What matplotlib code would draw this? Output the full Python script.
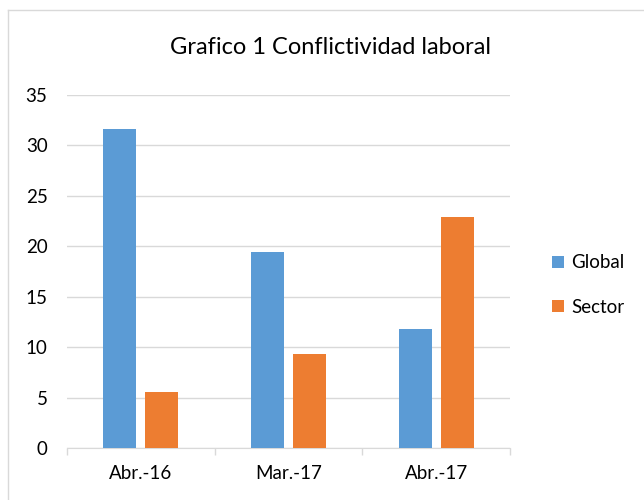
import numpy as np
import matplotlib.pyplot as plt
from matplotlib.lines import Line2D

categories = ["Abr.-16", "Mar.-17", "Abr.-17"]
global_vals = [31.6, 19.4, 11.8]
sector_vals = [5.6, 9.3, 22.9]
series_names = ["Global", "Sector"]

plt.rcParams['font.family'] = ['Lato', 'DejaVu Sans']

fig = plt.figure(figsize=(6.44, 5.0), dpi=100)
ax = fig.add_axes([67/644, 1-448/500, (510-67)/644, (448-95)/500])

x = np.arange(len(categories))
w = 0.223
off = 0.143
ax.bar(x - off, global_vals, w, color="#5B9BD5", label=series_names[0], zorder=3)
ax.bar(x + off, sector_vals, w, color="#ED7D31", label=series_names[1], zorder=3)

ax.set_xlim(-0.5, 2.5)
ax.set_ylim(0, 35)
ax.set_yticks(range(0, 36, 5))
ax.set_xticks(x)
ax.set_xticklabels(categories, fontsize=13.5, color="#000000")
ax.tick_params(axis="y", length=0, labelsize=13.5, pad=14)
ax.tick_params(axis="x", length=0, pad=12)
# minor ticks at the category boundaries
ax.set_xticks([-0.5, 0.5, 1.5, 2.5], minor=True)
ax.tick_params(axis="x", which="minor", length=5, color="#D9D9D9", width=1)
ax.grid(axis="y", color="#D9D9D9", linewidth=1, zorder=0)
for s in ["top", "right", "left"]:
    ax.spines[s].set_visible(False)
ax.spines["bottom"].set_color("#D9D9D9")

fig.text(330/644, 1 - 48/500, "Grafico 1 Conflictividad laboral",
         ha="center", va="center", fontsize=17)

ax.legend(loc="center left", bbox_to_anchor=(535/644, 1 - 285/500), bbox_transform=fig.transFigure,
          frameon=False, fontsize=13.5, handlelength=0.62, handleheight=0.62,
          handletextpad=0.4, labelspacing=1.45)

# chart border
fig.add_artist(Line2D([8/644, 8/644], [0, 1 - 10/500], color="#D9D9D9", lw=1))
fig.add_artist(Line2D([8/644, 1], [1 - 10/500, 1 - 10/500], color="#D9D9D9", lw=1))

plt.savefig("out.png", dpi=100)
